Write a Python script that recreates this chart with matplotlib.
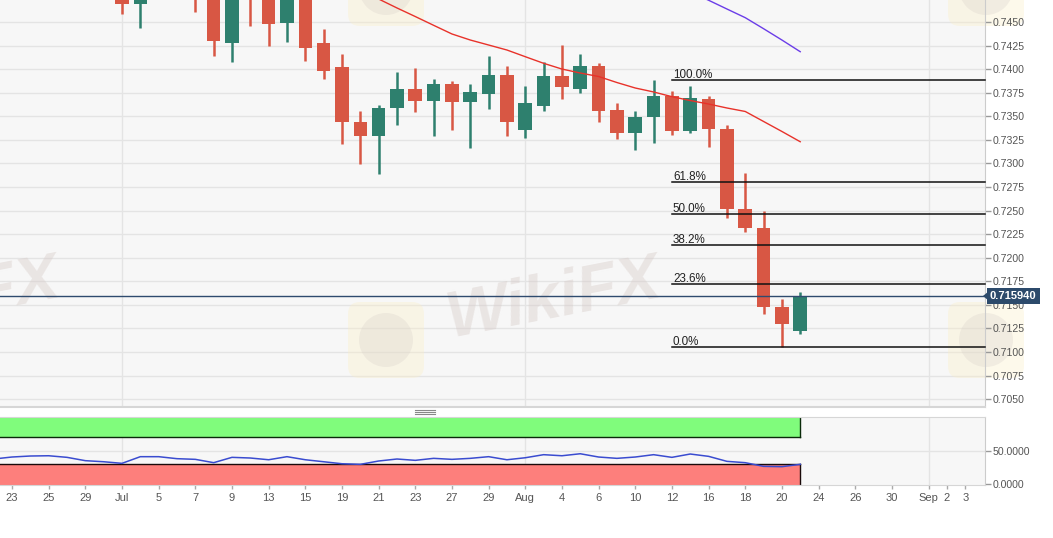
import numpy as np
import matplotlib
matplotlib.use('Agg')
import matplotlib.pyplot as plt
from matplotlib.patches import FancyBboxPatch, Circle, Polygon
from matplotlib.lines import Line2D
import matplotlib.transforms as mtransforms

plt.rcParams['font.family'] = ['Liberation Sans', 'DejaVu Sans']

# ---------------- data ----------------
# x axis: trading-day index (0 = Jun 23)
day_labels = ['23', '25', '29', 'Jul', '5', '7', '9', '13', '15', '19', '21', '23', '27', '29',
              'Aug', '4', '6', '10', '12', '16', '18', '20', '24', '26', '30', 'Sep', '2', '3']
day_label_pos = [0, 2, 4, 6, 8, 10, 12, 14, 16, 18, 20, 22, 24, 26,
                 28, 30, 32, 34, 36, 38, 40, 42, 44, 46, 48, 50, 51, 52]
month_start_pos = [6, 28, 50]

candle_idx = list(range(6, 44))  # Jul 1 .. Aug 23
opens = [0.7500, 0.74691, 0.7510, 0.7535, 0.7510, 0.7490, 0.74274, 0.7485, 0.7478, 0.74486,
         0.7490, 0.74274, 0.74026, 0.73443, 0.73295, 0.73591, 0.73786, 0.73665, 0.73839, 0.73648,
         0.73733, 0.73938, 0.73355, 0.73609, 0.73927, 0.73789, 0.74033, 0.73567, 0.73320, 0.73497,
         0.73719, 0.73344, 0.73680, 0.73366, 0.72513, 0.72312, 0.71480, 0.71222]
highs = [0.7510, 0.7520, 0.7545, 0.7600, 0.7525, 0.7500, 0.7500, 0.7500, 0.7490, 0.7505,
         0.7500, 0.74426, 0.74161, 0.73556, 0.73620, 0.73973, 0.74009, 0.73896, 0.73878, 0.73842,
         0.74140, 0.74033, 0.73821, 0.74080, 0.74256, 0.74161, 0.74069, 0.73638, 0.73556, 0.73885,
         0.73772, 0.73821, 0.73716, 0.73407, 0.72900, 0.72495, 0.71562, 0.71639]
lows = [0.74585, 0.74436, 0.7495, 0.7480, 0.74609, 0.74143, 0.74080, 0.74461, 0.74249, 0.74291,
        0.74087, 0.73896, 0.73203, 0.72991, 0.72885, 0.73408, 0.73549, 0.73295, 0.73355, 0.73167,
        0.73578, 0.73295, 0.73274, 0.73559, 0.73680, 0.73750, 0.73443, 0.73260, 0.73143, 0.73221,
        0.73302, 0.73320, 0.73178, 0.72418, 0.72276, 0.71403, 0.71050, 0.71187]
closes = [0.74691, 0.7510, 0.7535, 0.7490, 0.7490, 0.74299, 0.7485, 0.7478, 0.74475, 0.7490,
          0.74228, 0.73981, 0.73443, 0.73295, 0.73591, 0.73786, 0.73662, 0.73839, 0.73648, 0.73761,
          0.73938, 0.73443, 0.73644, 0.73927, 0.73807, 0.74033, 0.73556, 0.73327, 0.73497, 0.73719,
          0.73344, 0.73690, 0.73366, 0.72513, 0.72312, 0.71480, 0.71297, 0.71594]

ma_red_idx = list(range(19, 44))
ma_red = [0.74839, 0.74744, 0.74649, 0.74558, 0.74465, 0.74373, 0.74309, 0.74256, 0.74203,
          0.74132, 0.74062, 0.74001, 0.73959, 0.73922, 0.73858, 0.73800, 0.73758, 0.73708,
          0.73667, 0.73630, 0.73588, 0.73551, 0.73445, 0.73339, 0.73230]
ma_purple_idx = list(range(37, 44))
ma_purple = [0.74818, 0.74731, 0.74638, 0.74546, 0.74429, 0.74309, 0.74185]

rsi_idx = list(range(-1, 44))
rsi = [37.5, 40.5, 42, 42.4, 40, 35, 33.4, 31, 41, 41, 38, 37, 32, 40, 39, 36.4, 41, 36.4,
       33.4, 30.4, 29.5, 34.5, 37.5, 35.5, 38.5, 37, 38.5, 41, 36.4, 39.4, 44, 42.4, 45.4,
       40.5, 38.5, 40.5, 44, 40, 45, 41.5, 34, 32, 26.5, 26, 29.5]
rsi_upper = 70
rsi_lower = 30
rsi_top = 100
rsi_end = 43

fib_labels = ['100.0%', '61.8%', '50.0%', '38.2%', '23.6%', '0.0%']
fib_levels = [0.73882, 0.72800, 0.72466, 0.72132, 0.71718, 0.71050]
fib_start = 36
last_price = 0.715940

price_ticks = [0.7050, 0.7075, 0.7100, 0.7125, 0.7150, 0.7175, 0.7200, 0.7225, 0.7250,
               0.7275, 0.7300, 0.7325, 0.7350, 0.7375, 0.7400, 0.7425, 0.7450]
rsi_ticks = [0, 50]

# ---------------- style ----------------
W, H = 1053, 538
UP = '#2e806e'
DOWN = '#d85744'
BG = '#f7f7f7'
GRID = '#e4e4e4'
TXT = '#555555'

fig = plt.figure(figsize=(W / 100, H / 100), dpi=100)
fig.patch.set_facecolor('white')

ax = fig.add_axes([0, 131 / H, 985 / W, 407 / H])
ax2 = fig.add_axes([0, 53 / H, 985 / W, 68.3 / H])
xlim = (-0.655, 53.08)

for a in (ax, ax2):
    a.set_facecolor(BG)
    a.set_xlim(*xlim)
    for s in ('left', 'top'):
        a.spines[s].set_visible(False)
    a.spines['right'].set_color('#cccccc')
    a.spines['bottom'].set_color('#d6d6d6')
    for m in month_start_pos:
        a.axvline(m, color=GRID, lw=1, zorder=0.5)

ax2.spines['top'].set_visible(True)
ax2.spines['top'].set_color('#d6d6d6')
ax.spines['bottom'].set_linewidth(1.5)

# main panel
ax.set_ylim(0.704163, 0.747334)
ax.yaxis.tick_right()
ax.set_yticks(price_ticks)
ax.set_yticklabels(['%.4f' % v for v in price_ticks])
ax.tick_params(axis='y', colors='#999999', labelcolor=TXT, labelsize=7.6, length=4, width=1, pad=1.5)
ax.set_xticks([])
for v in price_ticks:
    ax.axhline(v, color=GRID, lw=1, zorder=0.5)

# watermark
ident = mtransforms.IdentityTransform()
wm_kw = dict(fontsize=47, fontweight='bold', fontstyle='italic', color='#d6cac6', alpha=0.4,
             rotation=11, ha='center', va='center', zorder=0.7, transform=ident)
ax.text(553, H - 300, 'WikiFX', **wm_kw)
ax.text(-48, H - 300, 'WikiFX', **wm_kw)
for (cx, cy) in [(386, 340), (986, 340), (386, -12), (986, -12)]:
    box = FancyBboxPatch((cx - 38, H - cy - 38), 76, 76,
                         boxstyle='round,pad=0,rounding_size=12', fc='#fbefc6', ec='none',
                         alpha=0.35, transform=ident, zorder=0.7, clip_on=False)
    ax.add_patch(box)
    circ = Circle((cx, H - cy), 27, fc='#d8d0ca', ec='none', alpha=0.3, transform=ident,
                  zorder=0.75, clip_on=False)
    ax.add_patch(circ)

# candles
for i, o, h, l, c in zip(candle_idx, opens, highs, lows, closes):
    col = UP if c >= o else DOWN
    ax.vlines(i, l, h, color=col, lw=1.8, zorder=3)
    ax.bar(i, c - o, bottom=o, width=0.74, color=col, zorder=3.2, linewidth=0)

# moving averages
ax.plot(ma_red_idx, ma_red, color='#e8322a', lw=1.0, zorder=4)
ax.plot(ma_purple_idx, ma_purple, color='#6b3de8', lw=1.0, zorder=4)

# fibonacci
txt_off = mtransforms.offset_copy(ax.transData, fig, x=1, y=2, units='dots')
for lab, lev in zip(fib_labels, fib_levels):
    ax.plot([fib_start, xlim[1]], [lev, lev], color='#111111', lw=1.1, zorder=4.5, clip_on=False)
    ax.text(fib_start, lev, lab, transform=txt_off, fontsize=8.4, color='#222222',
            ha='left', va='baseline', zorder=4.5)

# last price
ax.axhline(last_price, color='#2f4b6e', lw=1.0, zorder=4.6)
blend = mtransforms.blended_transform_factory(ax.transAxes, ax.transData)
ax.text(990 / 985, last_price, '%.6f' % last_price, transform=blend, ha='left', va='center',
        color='white', fontsize=8, fontweight='bold', zorder=10, clip_on=False,
        bbox=dict(boxstyle='square,pad=0.28', fc='#2c4a6b', ec='none'))
yp = H - 296
tri = Polygon([[983, yp], [989, yp + 5], [989, yp - 5]], closed=True, fc='#2c4a6b', ec='none',
              transform=ident, zorder=10, clip_on=False)
ax.add_patch(tri)

# RSI panel
ax2.set_ylim(-1.5, 101)
ax2.yaxis.tick_right()
ax2.set_yticks(rsi_ticks)
ax2.set_yticklabels(['%.4f' % v for v in rsi_ticks])
ax2.tick_params(axis='y', colors='#999999', labelcolor=TXT, labelsize=7.6, length=4, width=1, pad=1.5)
ax2.axhline(50, color=GRID, lw=1, zorder=0.5)
ax2.fill_between([xlim[0] - 1, rsi_end], rsi_upper, rsi_top, color='#80fc7c', lw=0, zorder=1)
ax2.fill_between([xlim[0] - 1, rsi_end], -1.5, rsi_lower, color='#fd7f7c', lw=0, zorder=1)
ax2.plot([xlim[0] - 1, rsi_end], [rsi_upper, rsi_upper], color='#0a2a0a', lw=1.0, zorder=2)
ax2.plot([xlim[0] - 1, rsi_end], [rsi_lower, rsi_lower], color='#1a0a0a', lw=1.0, zorder=2)
ax2.plot([rsi_end, rsi_end], [rsi_upper, rsi_top], color='#0a2a0a', lw=1.0, zorder=2)
ax2.plot([rsi_end, rsi_end], [-1.5, rsi_lower], color='#1a0a0a', lw=1.0, zorder=2)
ax2.plot(rsi_idx, rsi, color='#3a4cd0', lw=1.1, zorder=3)

ax2.set_xticks(day_label_pos)
ax2.set_xticklabels(day_labels)
ax2.tick_params(axis='x', colors='#aaaaaa', labelcolor=TXT, labelsize=8, length=3, width=1, pad=3)

# panel resize handle
for yy in (410, 412, 414):
    fig.add_artist(Line2D([415 / W, 435 / W], [1 - yy / H] * 2, transform=fig.transFigure,
                          color='#888888', lw=0.8))

fig.savefig('out.png', dpi=100, facecolor='white')
